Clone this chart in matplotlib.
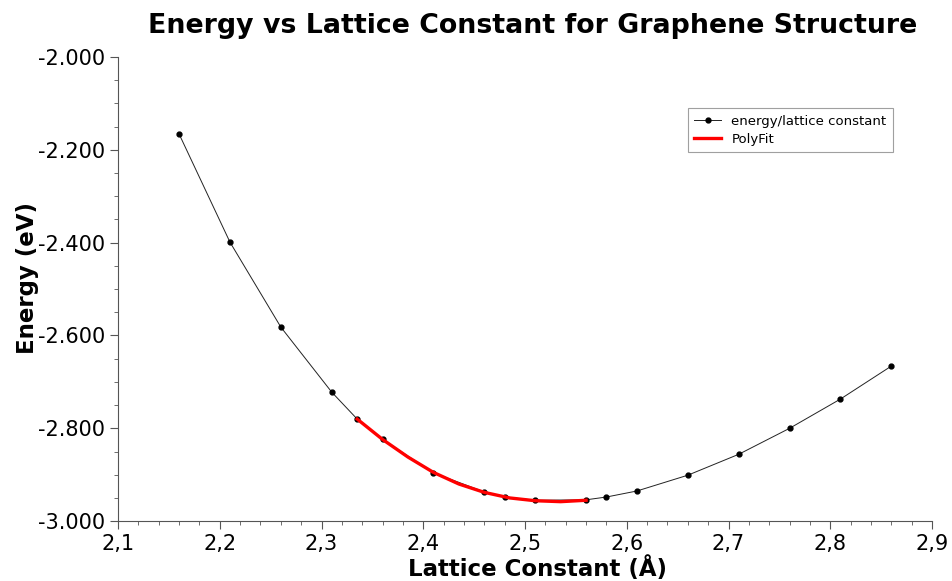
import matplotlib
matplotlib.use("Agg")
import matplotlib.pyplot as plt
from matplotlib.ticker import MultipleLocator, FuncFormatter

# lattice constant (Angstrom) and total energy (eV)
lattice = [2.16, 2.21, 2.26, 2.31, 2.335, 2.36, 2.41, 2.46, 2.48, 2.51,
           2.56, 2.58, 2.61, 2.66, 2.71, 2.76, 2.81, 2.86]
energy = [-2.166, -2.399, -2.582, -2.722, -2.780, -2.824, -2.896, -2.937,
          -2.948, -2.955, -2.954, -2.948, -2.935, -2.901, -2.856, -2.800,
          -2.737, -2.666]

# polynomial fit curve
fit_x = [2.335, 2.36, 2.385, 2.41, 2.435, 2.46, 2.485, 2.51, 2.535, 2.56]
fit_y = [-2.780, -2.824, -2.862, -2.895, -2.920, -2.938, -2.950, -2.956,
         -2.958, -2.955]


def main():
    plt.rcParams["font.family"] = "DejaVu Sans"

    fig = plt.figure(figsize=(9.52, 5.81), dpi=100)
    ax = fig.add_axes([0.124, 0.103, 0.855, 0.799])

    ax.plot(lattice, energy, color="#222222", lw=0.7, marker="o", ms=3.5,
            mfc="black", mec="black", label="energy/lattice constant")
    ax.plot(fit_x, fit_y, color="red", lw=2.4, label="PolyFit")

    ax.set_xlim(2.1, 2.9)
    ax.set_ylim(-3.0, -2.0)
    for side in ("top", "right"):
        ax.spines[side].set_visible(False)
    ax.spines["left"].set_color("#555555")
    ax.spines["bottom"].set_color("#555555")

    ax.xaxis.set_major_locator(MultipleLocator(0.1))
    ax.xaxis.set_minor_locator(MultipleLocator(0.02))
    ax.yaxis.set_major_locator(MultipleLocator(0.2))
    ax.yaxis.set_minor_locator(MultipleLocator(0.05))
    ax.xaxis.set_major_formatter(FuncFormatter(lambda v, p: f"{v:.1f}".replace(".", ",")))
    ax.yaxis.set_major_formatter(FuncFormatter(lambda v, p: f"{v:.3f}"))
    ax.tick_params(which="major", length=6, color="#555555", labelsize=15)
    ax.tick_params(which="minor", length=3, color="#555555")

    ax.set_xlabel("Lattice Constant (Å)", fontsize=16.5, fontweight="bold")
    ax.set_ylabel("Energy (eV)", fontsize=16.5, fontweight="bold")
    ax.xaxis.set_label_coords(0.5155, -0.075)
    ax.yaxis.set_label_coords(-0.097, 0.523)
    fig.suptitle("Energy vs Lattice Constant for Graphene Structure",
                 fontsize=19.3, fontweight="bold", x=0.56, y=0.977)

    leg = ax.legend(loc="upper left", bbox_to_anchor=(0.700, 0.890),
                    borderaxespad=0, fontsize=9.5, frameon=True, fancybox=False,
                    handlelength=2.0, borderpad=0.5, labelspacing=0.4)
    leg.get_frame().set_edgecolor("#888888")
    leg.get_frame().set_linewidth(0.8)

    fig.savefig("out.png", dpi=100)
    plt.close(fig)


if __name__ == "__main__":
    main()
